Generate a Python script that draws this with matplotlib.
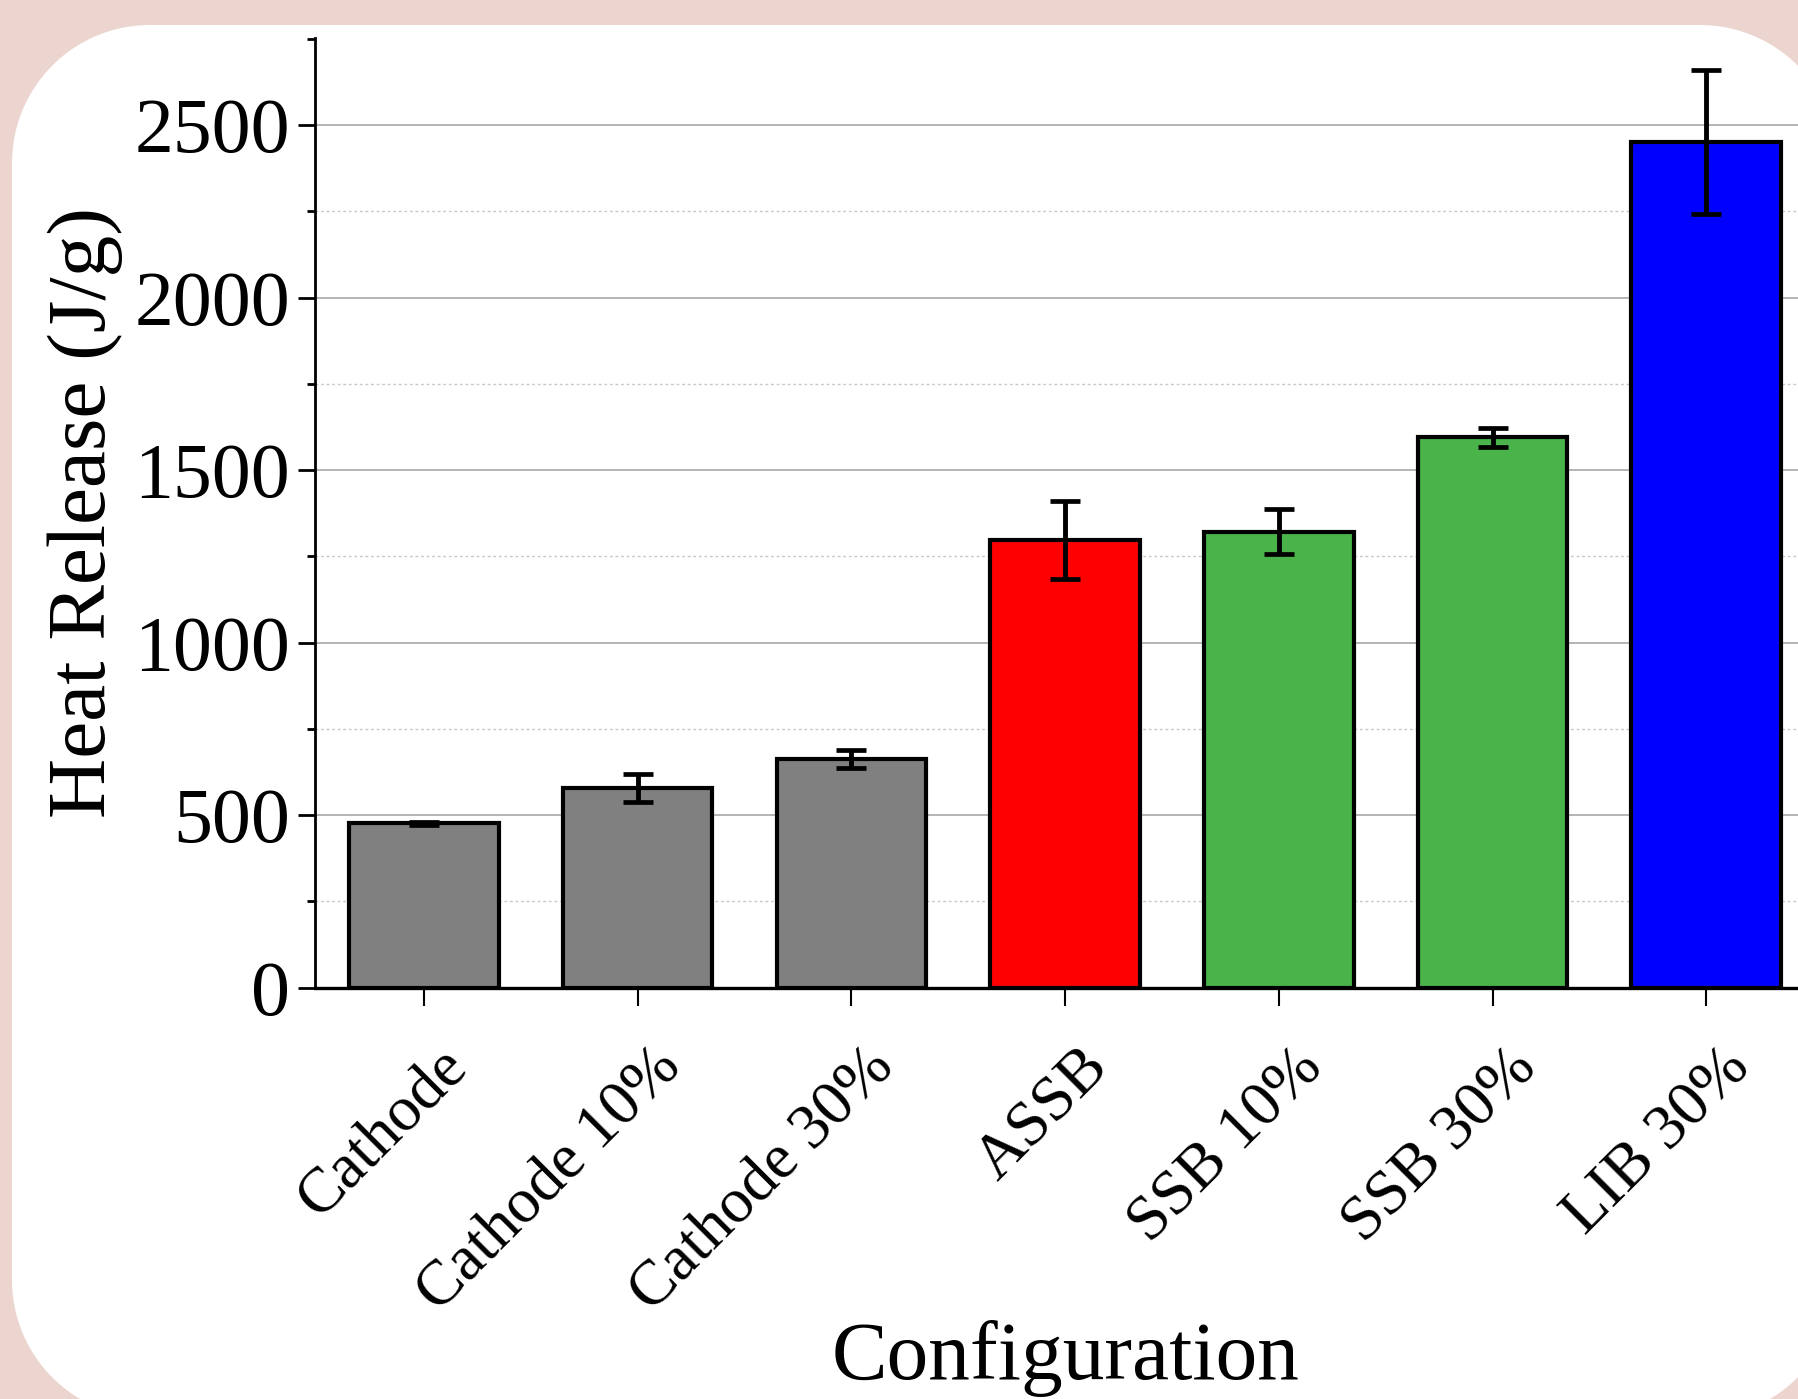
import numpy as np
import matplotlib.pyplot as plt
import matplotlib.transforms as mtransforms
from matplotlib.patches import Polygon
from matplotlib.ticker import MultipleLocator

# data
configs = ["Cathode", "Cathode 10%", "Cathode 30%", "ASSB", "SSB 10%", "SSB 30%", "LIB 30%"]
heat = [476, 579, 662, 1297, 1321, 1595, 2450]
err = [5, 41, 27, 113, 65, 27, 208]
colors = ["#808080", "#808080", "#808080", "#FF0000", "#4AB34A", "#4AB34A", "#0000FF"]

plt.rcParams['font.family'] = ['Liberation Serif', 'DejaVu Serif']


def rounded_rect(x0, y0, w, h, r, n=40):
    # outline of a rectangle with circular corners (inches)
    pts = []
    corners = [(x0 + w - r, y0 + h - r, 0), (x0 + r, y0 + h - r, 90),
               (x0 + r, y0 + r, 180), (x0 + w - r, y0 + r, 270)]
    for cx, cy, a0 in corners:
        t = np.radians(np.linspace(a0, a0 + 90, n))
        pts += list(zip(cx + r * np.cos(t), cy + r * np.sin(t)))
    return pts


fig = plt.figure(figsize=(17.99, 13.99), dpi=100)
fig.patch.set_facecolor("#ECD5CE")

# white rounded card behind the chart
card = Polygon(rounded_rect(0.12, -0.19, 18.26, 13.93, 1.38), closed=True,
               transform=fig.dpi_scale_trans, facecolor="white",
               edgecolor="none", zorder=-5)
fig.patches.append(card)

ax = fig.add_axes([0.1751, 0.2941, 0.8339, 0.6787])
ax.set_zorder(1)
ax.set_facecolor("none")

x = np.arange(len(configs))
ax.bar(x, heat, width=0.70, color=colors, edgecolor="black", linewidth=3, zorder=3)
ax.errorbar(x, heat, yerr=err, fmt="none", ecolor="black", elinewidth=3.5,
            capsize=10.5, capthick=3.4, zorder=4)

ax.set_xlim(-0.51, 6.51)
ax.set_ylim(0, 2752)
ax.yaxis.set_major_locator(MultipleLocator(500))
ax.yaxis.set_minor_locator(MultipleLocator(250))

# major grid solid, minor grid dotted (none at the top end)
ax.grid(axis="y", which="major", color="#a8a8a8", linewidth=1.2, zorder=0)
for yv in np.arange(250, 2750, 500):
    ax.axhline(yv, color="#c8c8c8", linewidth=1.0, linestyle=(0, (2, 2)), zorder=0)
ax.set_axisbelow(True)

for s in ["top", "right"]:
    ax.spines[s].set_visible(False)
ax.spines["left"].set_linewidth(2)
ax.spines["bottom"].set_linewidth(2.4)

ax.set_xticks(x)
ax.set_xticklabels(configs, rotation=45, ha="right", va="top",
                   rotation_mode="anchor", fontsize=46)
ax.tick_params(axis="x", length=13, width=1.5, pad=14)
ax.tick_params(axis="y", which="major", length=12, width=2, labelsize=56, pad=6)
ax.tick_params(axis="y", which="minor", length=6, width=2)

# nudge the slanted labels down-right
shift = mtransforms.ScaledTranslation(0.14, -0.13, fig.dpi_scale_trans)
for lab in ax.get_xticklabels():
    lab.set_transform(lab.get_transform() + shift)

ax.set_ylabel("Heat Release (J/g)", fontsize=60)
ax.yaxis.set_label_coords(-0.153, 0.5)
ax.yaxis.label.set_va("center")
ax.set_xlabel("Configuration", fontsize=60)
ax.xaxis.set_label_coords(0.5, -0.35)
ax.xaxis.label.set_va("top")

fig.savefig("out.png", dpi=100, facecolor=fig.get_facecolor())
